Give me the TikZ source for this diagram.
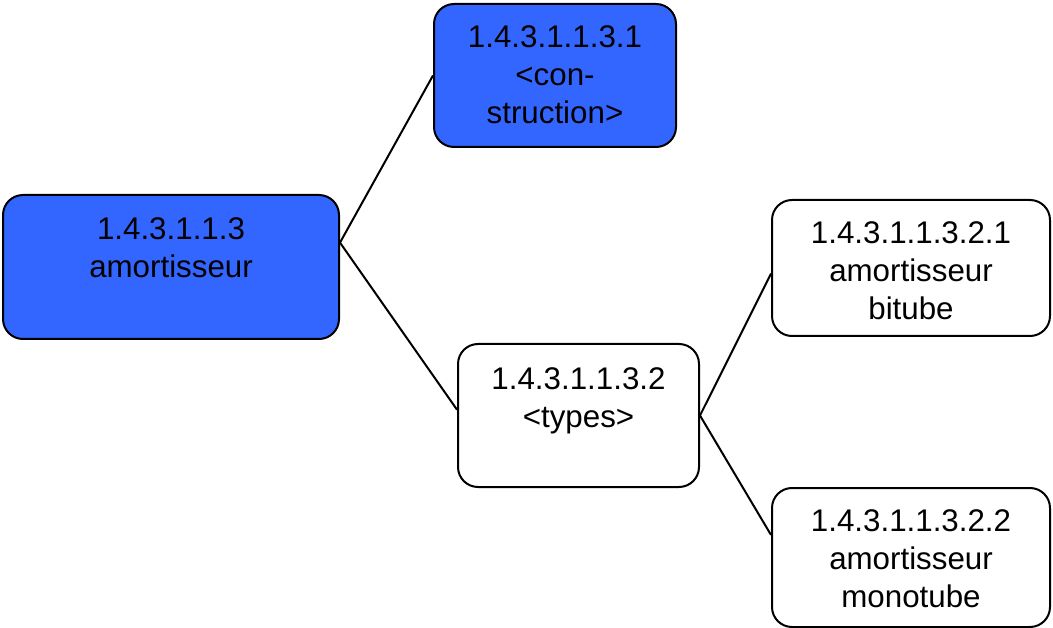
\documentclass[tikz,border=0pt]{standalone}
\usepackage{fontspec}
\setmainfont{Liberation Sans}
\usetikzlibrary{calc}
\definecolor{boxblue}{HTML}{3366FF}
\begin{document}
\begin{tikzpicture}[x=1pt,y=-1pt,
  box/.style={draw=black, line width=2pt, rounded corners=20pt, inner sep=0pt},
  hot/.style={box, fill=boxblue},
  plain/.style={box, fill=white},
  label text/.style={anchor=north, align=center, inner sep=0pt,
    font=\fontsize{31.3}{38}\selectfont},
  link/.style={draw=black, line width=2pt}
]
\useasboundingbox (0,0) rectangle (1053,628);

% boxes
\node[hot,   minimum width=336pt, minimum height=144pt] (a) at (171,267) {};
\node[hot,   minimum width=242pt, minimum height=143pt] (b) at (555,75.5) {};
\node[plain, minimum width=241pt, minimum height=143pt] (c) at (578.5,415.5) {};
\node[plain, minimum width=278pt, minimum height=136pt] (d) at (911,268) {};
\node[plain, minimum width=278pt, minimum height=139pt] (e) at (911,557.5) {};

% texts, set from the top of each box
\node[label text] (at) at ($(a.north)+(0,23.6)$) {1.4.3.1.1.3\\amortisseur};
\node[label text] (bt) at ($(b.north)+(0,22.6)$) {1.4.3.1.1.3.1\\<con-\\struction>};
\node[label text] (ct) at ($(c.north)+(0,24.6)$) {1.4.3.1.1.3.2\\<types>};
\node[label text] (dt) at ($(d.north)+(0,22.6)$) {1.4.3.1.1.3.2.1\\amortisseur\\bitube};
\node[label text] (et) at ($(e.north)+(0,22.6)$) {1.4.3.1.1.3.2.2\\amortisseur\\monotube};

% connectors
\coordinate (aout) at ($(a.north east)!0.333!(a.south east)$);
\draw[link] (aout) -- (b.west);
\draw[link] (aout) -- ($(c.north west)!0.46!(c.south west)$);
\draw[link] (c.east) -- ($(d.north west)!0.54!(d.south west)$);
\draw[link] (c.east) -- ($(e.north west)!0.34!(e.south west)$);
\end{tikzpicture}
\end{document}
